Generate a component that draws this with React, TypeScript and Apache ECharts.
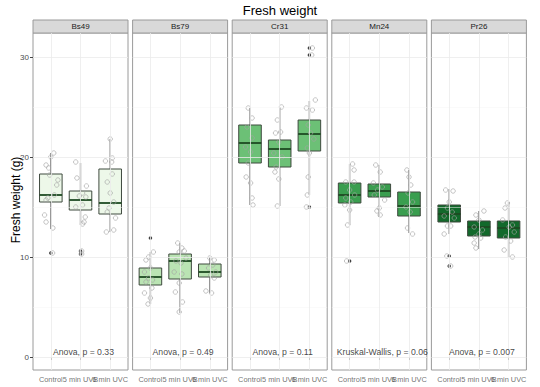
import React, { useEffect, useRef } from "react";
import * as echarts from "echarts";

const panels = ["Bs49", "Bs79", "Cr31", "Mn24", "Pr26"];
const treatments = ["Control", "5 min UVB", "6 min UVC"];
const yTicks = [0, 10, 20, 30];
const annotations = [
  "Anova, p = 0.33",
  "Anova, p = 0.49",
  "Anova, p = 0.11",
  "Kruskal-Wallis, p = 0.06",
  "Anova, p = 0.007",
];

// [lower whisker, q1, median, q3, upper whisker] per treatment
const bs49Box = [[12.8, 15.5, 16.2, 18.3, 20.4], [13.2, 14.7, 15.7, 16.6, 19.4], [12.5, 14.3, 15.4, 18.8, 21.8]];
const bs79Box = [[5.3, 7.2, 8.0, 8.9, 10.5], [4.4, 7.8, 9.6, 10.3, 11.4], [6.4, 8.0, 8.5, 9.3, 10.0]];
const cr31Box = [[15.2, 19.4, 21.4, 23.2, 24.9], [15.1, 19.0, 20.8, 21.7, 25.0], [16.2, 20.6, 22.3, 23.7, 25.6]];
const mn24Box = [[13.2, 15.4, 16.2, 17.4, 19.3], [14.0, 16.0, 16.6, 17.3, 19.2], [12.4, 14.1, 15.1, 16.5, 18.7]];
const pr26Box = [[12.3, 13.5, 14.3, 15.2, 16.8], [10.8, 12.1, 13.0, 13.6, 14.6], [10.0, 11.9, 12.9, 13.6, 15.5]];

// outliers: [treatment index, value]
const bs49Out = [[0, 10.4], [1, 10.6], [1, 10.3]];
const bs79Out = [[0, 11.9]];
const cr31Out = [[2, 30.9], [2, 30.2], [2, 15.0]];
const mn24Out = [[0, 9.6]];
const pr26Out = [[0, 10.1], [0, 9.1]];

// jittered observations: [treatment index, jitter offset, value]
const bs49Pts = [
  [0, 0.1, 20.4], [0, 0, 20.0], [0, -0.16, 19.2], [0, -0.07, 18.9], [0, -0.04, 18.2], [0, 0.24, 17.7], [0, 0.2, 17.2], [0, 0.12, 16.2], [0, -0.1, 15.9], [0, -0.16, 15.7], [0, -0.21, 14.2], [0, -0.16, 13.5], [0, 0.07, 12.9], [0, 0.06, 10.4],
  [1, -0.16, 19.5], [1, -0.12, 17.9], [1, 0.2, 17.1], [1, 0.07, 16.4], [1, -0.04, 16.1], [1, 0.18, 16.0], [1, 0.07, 15.2], [1, -0.16, 15.0], [1, 0.16, 14.0], [1, 0.12, 13.5], [1, 0.07, 13.3], [1, 0.04, 10.6], [1, 0.04, 10.3],
  [2, 0, 21.8], [2, -0.16, 19.6], [2, 0.07, 19.9], [2, 0.05, 19.5], [2, 0.07, 18.3], [2, -0.1, 17.5], [2, 0, 16.4], [2, 0.12, 15.5], [2, -0.04, 14.9], [2, -0.1, 14.5], [2, 0.18, 13.9], [2, 0.12, 12.7], [2, -0.13, 12.5],
];
const bs79Pts = [
  [0, 0.1, 10.5], [0, -0.06, 10.0], [0, -0.15, 9.7], [0, 0, 8.9], [0, -0.2, 8.5], [0, -0.06, 7.9], [0, 0.07, 7.7], [0, -0.15, 7.5], [0, 0.05, 6.9], [0, -0.2, 6.4], [0, 0, 5.9], [0, -0.08, 5.3],
  [1, -0.08, 11.4], [1, 0.06, 10.9], [1, -0.03, 10.5], [1, 0.14, 10.6], [1, 0.2, 9.9], [1, -0.14, 9.6], [1, 0.03, 9.4], [1, -0.2, 8.5], [1, 0.06, 8.3], [1, -0.03, 7.4], [1, -0.16, 6.5], [1, 0.08, 5.5], [1, -0.03, 4.5],
  [2, 0, 9.9], [2, 0.15, 9.7], [2, 0.1, 9.2], [2, -0.04, 8.9], [2, 0.2, 8.5], [2, 0.03, 8.2], [2, 0.15, 7.9], [2, -0.13, 6.6], [2, 0.06, 6.4],
];
const cr31Pts = [
  [0, -0.06, 24.9], [0, 0.07, 23.9], [0, -0.1, 23.0], [0, 0.07, 21.9], [0, -0.15, 21.0], [0, 0.02, 20.5], [0, -0.06, 19.4], [0, -0.13, 18.0], [0, 0.02, 17.4], [0, 0.07, 15.9], [0, 0.1, 15.2],
  [1, 0.06, 25.0], [1, -0.08, 23.7], [1, -0.14, 22.4], [1, 0.03, 22.5], [1, -0.03, 21.5], [1, -0.2, 20.4], [1, 0.08, 20.0], [1, -0.12, 19.0], [1, -0.16, 18.5], [1, -0.03, 17.8], [1, -0.08, 15.1],
  [2, 0.2, 25.7], [2, -0.1, 24.9], [2, 0.1, 24.7], [2, -0.04, 23.2], [2, 0.04, 22.4], [2, 0.15, 21.8], [2, -0.07, 20.9], [2, 0, 20.4], [2, -0.04, 18.0], [2, -0.07, 16.2], [2, 0.1, 30.9], [2, 0.08, 30.2], [2, -0.1, 15.0],
];
const mn24Pts = [
  [0, 0.1, 19.3], [0, 0.15, 18.7], [0, -0.13, 17.5], [0, 0.15, 17.5], [0, 0, 16.7], [0, 0.17, 16.2], [0, -0.13, 15.9], [0, 0.04, 15.5], [0, -0.16, 15.2], [0, 0, 14.7], [0, -0.07, 13.2], [0, -0.1, 9.6],
  [1, -0.12, 19.2], [1, 0.03, 18.5], [1, -0.2, 17.4], [1, 0.1, 17.0], [1, -0.06, 16.7], [1, -0.17, 16.2], [1, 0.18, 15.7], [1, 0, 14.9], [1, -0.08, 14.6], [1, 0.03, 14.2],
  [2, -0.07, 18.7], [2, 0, 18.0], [2, 0.06, 17.2], [2, -0.03, 16.4], [2, 0.12, 15.5], [2, -0.1, 15.0], [2, 0.04, 14.5], [2, -0.05, 12.9], [2, 0.12, 12.3],
];
const pr26Pts = [
  [0, -0.12, 16.7], [0, 0.13, 16.6], [0, 0, 15.5], [0, -0.06, 14.9], [0, 0.1, 14.5], [0, -0.17, 14.1], [0, 0.17, 13.9], [0, -0.06, 13.1], [0, 0.05, 13.1], [0, -0.17, 12.3], [0, -0.08, 10.1], [0, 0.05, 9.1],
  [1, 0.17, 14.6], [1, -0.1, 14.2], [1, 0, 13.7], [1, -0.16, 13.0], [1, 0.12, 12.7], [1, 0, 12.3], [1, -0.13, 12.0], [1, 0.06, 11.9], [1, -0.16, 11.4], [1, -0.1, 10.9],
  [2, -0.04, 15.4], [2, -0.12, 14.9], [2, -0.2, 13.7], [2, 0.13, 13.2], [2, 0.02, 13.0], [2, 0.19, 12.5], [2, -0.1, 12.0], [2, 0.07, 11.6], [2, -0.15, 10.7], [2, 0.13, 10.0],
];

const boxes = [bs49Box, bs79Box, cr31Box, mn24Box, pr26Box];
const outliers = [bs49Out, bs79Out, cr31Out, mn24Out, pr26Out];
const points = [bs49Pts, bs79Pts, cr31Pts, mn24Pts, pr26Pts];
const fills = ["#edf8e9", "#bae4b3", "#6cc076", "#3a9e4f", "#12692b"];

const FONT = "Liberation Sans, Arial, Helvetica, sans-serif";
const P_LEFT = 33;
const P_STEP = 99.6;
const P_W = 95;
const P_TOP = 33;
const P_H = 337;
const Y_MIN = -1.3;
const Y_MAX = 32.4;
const HALF_BOX = 0.38;

export default function App() {
  const ref = useRef<HTMLDivElement>(null);
  useEffect(() => {
    if (!ref.current) return;
    const chart = echarts.init(ref.current, null, { renderer: "svg" });
    const grids: any[] = [];
    const xAxes: any[] = [];
    const yAxes: any[] = [];
    const series: any[] = [];
    const graphics: any[] = [];

    panels.forEach((name, i) => {
      const left = P_LEFT + i * P_STEP;
      grids.push({
        left, top: P_TOP, width: P_W, height: P_H,
        show: true, borderColor: "#9a9a9a", borderWidth: 1, backgroundColor: "#ffffff",
      });
      xAxes.push({
        type: "value", gridIndex: i, min: 0.4, max: 3.6,
        splitLine: { show: false },
        axisLine: { show: false },
        axisTick: { show: true, customValues: [1, 2, 3], length: 3, lineStyle: { color: "#444" } },
        axisLabel: { show: false },
      });
      yAxes.push({
        type: "value", gridIndex: i, min: Y_MIN, max: Y_MAX,
        splitLine: { show: false },
        axisLine: { show: false },
        axisTick: { show: i === 0, customValues: yTicks, length: 3, lineStyle: { color: "#444" } },
        axisLabel: {
          show: i === 0, customValues: yTicks, margin: 4, fontSize: 8, color: "#4d4d4d", fontFamily: FONT,
        },
      });
      // grid lines
      series.push({
        type: "line", xAxisIndex: i, yAxisIndex: i, data: [], z: 0, silent: true,
        markLine: {
          silent: true, symbol: "none", label: { show: false }, animation: false,
          data: [
            ...[0, 10, 20, 30].map((v) => ({ yAxis: v, lineStyle: { color: "#ebebeb", width: 0.8, type: "solid" } })),
            ...[5, 15, 25].map((v) => ({ yAxis: v, lineStyle: { color: "#f5f5f5", width: 0.5, type: "solid" } })),
            ...[1, 2, 3].map((v) => ({ xAxis: v, lineStyle: { color: "#ebebeb", width: 0.8, type: "solid" } })),
          ],
        },
      });
      const fill = fills[i];
      series.push({
        type: "custom", xAxisIndex: i, yAxisIndex: i, z: 2, silent: true,
        data: boxes[i].map((b, t) => [t + 1, ...b]),
        renderItem: (_p: any, api: any) => {
          const x = api.value(0);
          const lo = api.coord([x, api.value(1)]);
          const hi = api.coord([x, api.value(5)]);
          const a = api.coord([x - HALF_BOX, api.value(2)]);
          const b = api.coord([x + HALF_BOX, api.value(4)]);
          const mL = api.coord([x - HALF_BOX, api.value(3)]);
          const mR = api.coord([x + HALF_BOX, api.value(3)]);
          return {
            type: "group",
            children: [
              { type: "line", shape: { x1: lo[0], y1: lo[1], x2: hi[0], y2: hi[1] }, style: { stroke: "#8c8c8c", lineWidth: 1.4 } },
              { type: "rect", shape: { x: a[0], y: b[1], width: b[0] - a[0], height: a[1] - b[1] }, style: { fill, stroke: "#3f4a3f", lineWidth: 1 } },
              { type: "line", shape: { x1: mL[0], y1: mL[1], x2: mR[0], y2: mR[1] }, style: { stroke: "#1d4a22", lineWidth: 1.8 } },
            ],
          };
        },
      });
      series.push({
        type: "scatter", xAxisIndex: i, yAxisIndex: i, z: 3, silent: true,
        symbol: "circle", symbolSize: 3.5,
        itemStyle: { color: "#111111" },
        data: outliers[i].map(([t, v]) => [t + 1, v]),
      });
      series.push({
        type: "scatter", xAxisIndex: i, yAxisIndex: i, z: 4, silent: true,
        symbol: "circle", symbolSize: 4.5,
        itemStyle: { color: "rgba(0,0,0,0)", borderColor: "#a3a3a3", borderWidth: 0.8 },
        data: points[i].map(([t, o, v]) => [t + 1 + o, v]),
      });
      series.push({
        type: "scatter", xAxisIndex: i, yAxisIndex: i, z: 5, silent: true,
        symbolSize: 1, itemStyle: { color: "rgba(0,0,0,0)" },
        label: { show: true, position: "inside", formatter: annotations[i], fontSize: 8.7, color: "#111", fontFamily: FONT },
        data: [[2.1, 0.5]],
      });
      // category labels under the panel, placed by the x scale
      series.push({
        type: "scatter", xAxisIndex: i, yAxisIndex: i, z: 5, silent: true, clip: false,
        symbolSize: 1, itemStyle: { color: "rgba(0,0,0,0)" },
        label: {
          show: true, position: "bottom", distance: 5, fontSize: 7.4, color: "#4d4d4d", fontFamily: FONT,
          formatter: (p: any) => treatments[p.dataIndex],
        },
        data: treatments.map((_t, k) => [k + 1, Y_MIN]),
      });
      graphics.push({
        type: "rect", shape: { x: left, y: 20, width: P_W, height: 13 },
        style: { fill: "#d9d9d9", stroke: "#9a9a9a", lineWidth: 1 },
      });
      graphics.push({
        type: "text", x: left + P_W / 2, y: 26.8,
        style: { text: name, fontSize: 8, fill: "#1a1a1a", fontFamily: FONT, align: "center", verticalAlign: "middle" },
      });
    });

    graphics.push({
      type: "text", x: 280, y: 10,
      style: { text: "Fresh weight", fontSize: 13, fill: "#000", fontFamily: FONT, align: "center", verticalAlign: "middle" },
    });
    graphics.push({
      type: "text", x: 16, y: 200, rotation: Math.PI / 2,
      style: { text: "Fresh weight (g)", fontSize: 12, fill: "#000", fontFamily: FONT, align: "center", verticalAlign: "middle" },
    });

    chart.setOption({
      animation: false,
      backgroundColor: "#ffffff",
      grid: grids,
      xAxis: xAxes,
      yAxis: yAxes,
      series,
      graphic: graphics,
    });
    return () => chart.dispose();
  }, []);
  return <div ref={ref} style={{ width: 540, height: 387, position: "absolute", left: 0, top: 0 }} />;
}
